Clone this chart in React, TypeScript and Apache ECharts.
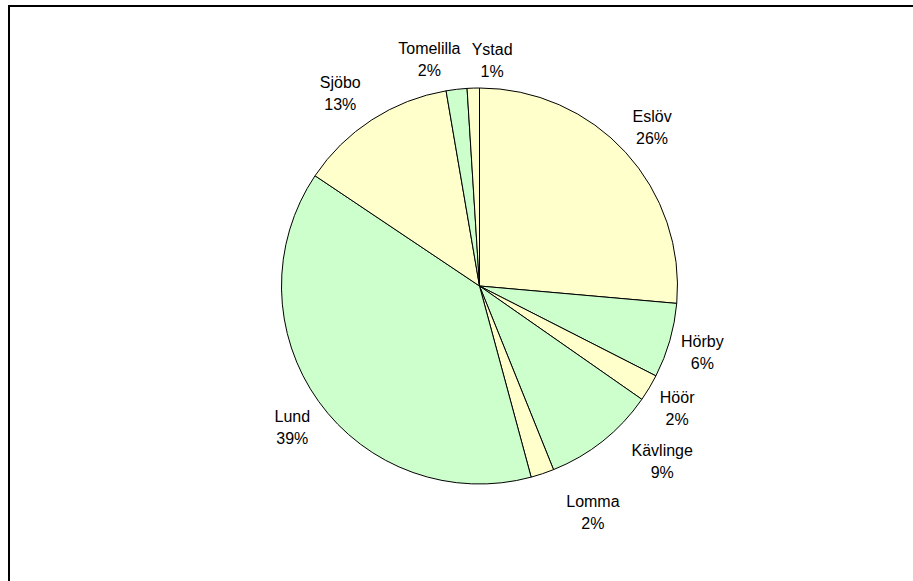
import React, { useEffect, useRef } from "react";
import * as echarts from "echarts";

// Municipalities, clockwise from 12 o'clock
const categories = ["Eslöv", "Hörby", "Höör", "Kävlinge", "Lomma", "Lund", "Sjöbo", "Tomelilla", "Ystad"];
// Share of total (%)
const shares = [26.4, 6.1, 2.2, 9.2, 1.9, 38.6, 12.9, 1.7, 1.0];

// Styling (not data)
const YELLOW = "#FFFFCC";
const GREEN = "#CCFFCC";
const sliceColors = [YELLOW, GREEN, YELLOW, GREEN, YELLOW, GREEN, YELLOW, GREEN, YELLOW];
const labelNudges: Record<string, [number, number]> = {
  Eslöv: [0, 0],
  Hörby: [-2, 2],
  Höör: [-3, 2],
  Kävlinge: [37, -8],
  Lomma: [39, 5],
  Sjöbo: [-12, 4],
  Tomelilla: [-23, 6],
  Ystad: [20, 8],
  Lund: [3, 5],
};

const FONT = '"Liberation Sans", Arial, Helvetica, sans-serif';

export default function App() {
  const ref = useRef<HTMLDivElement>(null);

  useEffect(() => {
    if (!ref.current) return;
    const chart = echarts.init(ref.current, undefined, { renderer: "svg" });
    const data = categories.map((name, i) => ({
      name,
      value: shares[i],
      itemStyle: { color: sliceColors[i] },
    }));
    chart.setOption({
      animation: false,
      backgroundColor: "#ffffff",
      graphic: [
        {
          type: "rect",
          silent: true,
          z: 0,
          shape: { x: 9, y: 6, width: 1000, height: 1000 },
          style: { fill: "none", stroke: "#000000", lineWidth: 2 },
        },
      ],
      series: [
        {
          type: "pie",
          center: [479.5, 286],
          radius: 198,
          startAngle: 90,
          clockwise: true,
          avoidLabelOverlap: false,
          percentPrecision: 2,
          itemStyle: { borderColor: "#000000", borderWidth: 1 },
          emphasis: { disabled: true },
          label: {
            show: true,
            position: "outside",
            distanceToLabelLine: 0,
            fontFamily: FONT,
            fontSize: 16,
            lineHeight: 22,
            color: "#000000",
            formatter: (p: any) => `${p.name}\n${Math.round(p.percent)}%`,
          },
          labelLine: { show: false, length: 36, length2: 0 },
          labelLayout: (params: any) => {
            const name = categories[params.dataIndex];
            const n = labelNudges[name] || [0, 0];
            return { align: "center", verticalAlign: "middle", dx: n[0], dy: n[1] };
          },
          data,
        },
      ],
    });
    return () => chart.dispose();
  }, []);

  return (
    <div
      ref={ref}
      style={{ position: "absolute", left: 0, top: 0, width: 913, height: 581, background: "#fff" }}
    />
  );
}
